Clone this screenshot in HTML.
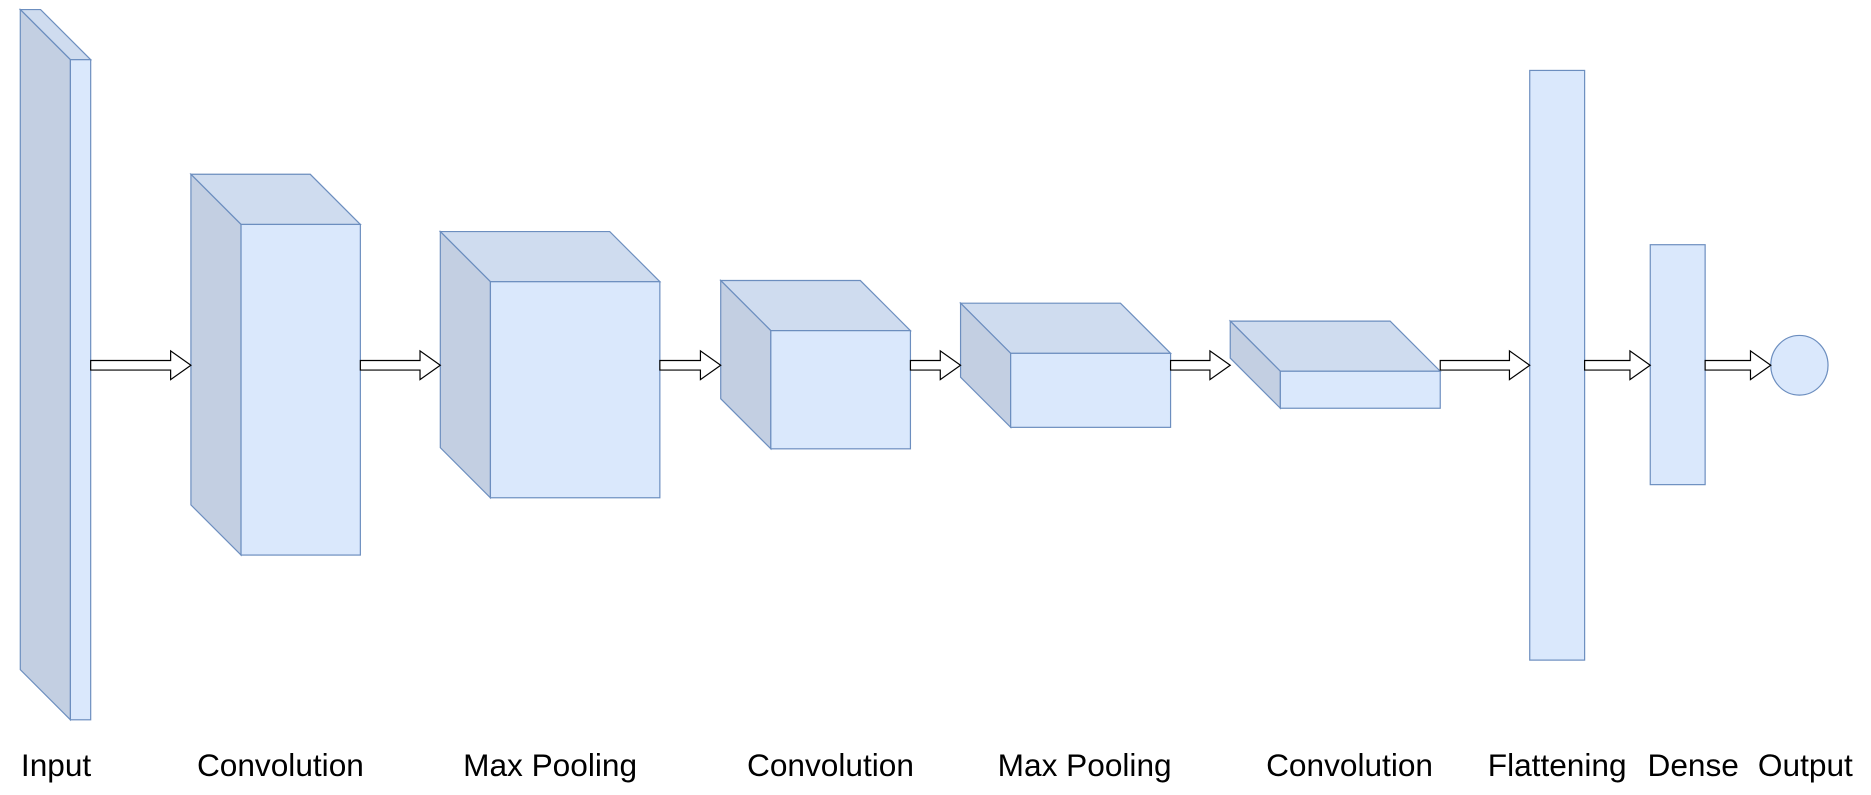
<!DOCTYPE html>
<html><head><meta charset="utf-8"><style>
html,body{margin:0;padding:0;background:#fff;}
svg{display:block;}
text{font-family:"Liberation Sans",Arial,sans-serif;font-size:26.5px;fill:#000;}
</style></head><body>
<svg id="chart" width="1871" height="795" viewBox="0 0 1568 666" preserveAspectRatio="none" xmlns="http://www.w3.org/2000/svg"></svg>
<script>
// Layer boxes: front face [x1, y1, x2, y2], depth (0 = flat)
const layerNames = ["input","convolution-1","max-pooling-1","convolution-2","max-pooling-2","convolution-3","flattening","dense"];
const frontX1 = [59, 202, 411, 646, 847, 1073, 1282, 1383];
const frontY1 = [50, 188, 236, 277, 296, 311, 59, 205];
const frontX2 = [76, 302, 553, 763, 981, 1207, 1328, 1429];
const frontY2 = [603, 465, 417, 376, 358, 342, 553, 406];
const depths  = [42, 42, 42, 42, 42, 42, 0, 0];
const labels  = ["Input","Convolution","Max Pooling","Convolution","Max Pooling","Convolution","Flattening","Dense","Output"];
const labelX  = [47, 235, 461, 696, 909, 1131, 1305, 1419, 1513];
const arrowStart = [76, 302, 553, 763, 981, 1207, 1328, 1429];
const arrowEnd   = [160, 369, 604, 805, 1031, 1282, 1383, 1484];
const outCx = 1508, outCy = 306, outRx = 24, outRy = 25;
const midY = 306;

const svg = document.getElementById('chart');
const NS = 'http://www.w3.org/2000/svg';
function mk(tag, attrs){ const e=document.createElementNS(NS,tag); for(const k in attrs) e.setAttribute(k,attrs[k]); svg.appendChild(e); return e; }
const stroke = '#6c8ebf';

for (let i=0;i<layerNames.length;i++){
  const x1=frontX1[i], y1=frontY1[i], x2=frontX2[i], y2=frontY2[i], d=depths[i];
  if (d>0){
    const top = mk('polygon',{points:`${x1-d},${y1-d} ${x2-d},${y1-d} ${x2},${y1} ${x1},${y1}`,fill:'#cfdcef',stroke:stroke,'stroke-width':1});
    
    
    const left = mk('polygon',{points:`${x1-d},${y1-d} ${x1},${y1} ${x1},${y2} ${x1-d},${y2-d}`,fill:'#c3cfe2',stroke:stroke,'stroke-width':1});
    
    
  }
  const front = mk('rect',{x:x1,y:y1,width:x2-x1,height:y2-y1,fill:'#dae8fc',stroke:stroke,'stroke-width':1});
  
  
}

const out = mk('ellipse',{cx:outCx,cy:outCy,rx:outRx,ry:outRy,fill:'#dae8fc',stroke:stroke,'stroke-width':1});



for (let i=0;i<arrowStart.length;i++){
  const s=arrowStart[i], e=arrowEnd[i], h=17, sh=4, hh=12;
  const pts=`${s},${midY-sh} ${e-h},${midY-sh} ${e-h},${midY-hh} ${e},${midY} ${e-h},${midY+hh} ${e-h},${midY+sh} ${s},${midY+sh}`;
  const a = mk('polygon',{points:pts,fill:'#fff',stroke:'#000','stroke-width':1});
  
  
}

for (let i=0;i<labels.length;i++){
  const t = mk('text',{x:labelX[i],y:650,'text-anchor':'middle'});
  t.textContent = labels[i];
  
  
}
</script>
</body></html>
